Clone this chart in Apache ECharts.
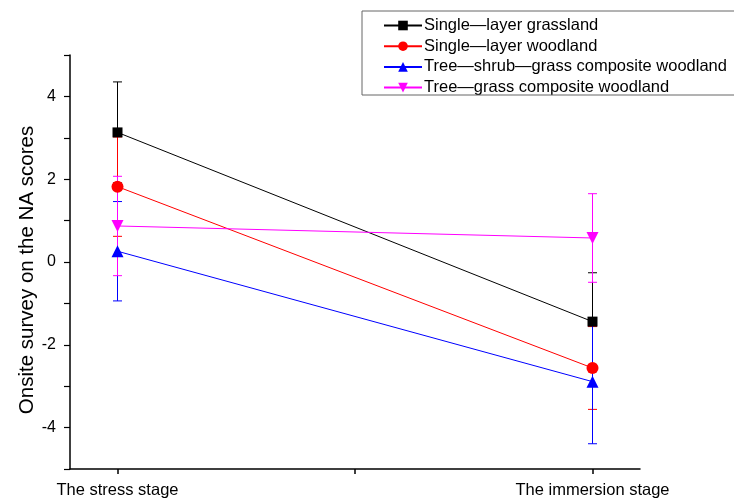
<!DOCTYPE html>
<html>
<head>
<meta charset="utf-8">
<script src="https://cdn.jsdelivr.net/npm/echarts@6/dist/echarts.min.js"></script>
<style>html,body{margin:0;padding:0;background:#fff}#c{width:734px;height:499px}</style>
</head>
<body>
<div id="c"></div>
<script>
const categories = ['The stress stage', 'The immersion stage'];
const xPositions = [1, 2];
const seriesNames = ['Single\u2014layer grassland', 'Single\u2014layer woodland', 'Tree\u2014shrub\u2014grass composite woodland', 'Tree\u2014grass composite woodland'];
const grassland = [3.13, -1.44];
const grasslandErr = [1.22, 1.18];
const woodland = [1.82, -2.56];
const woodlandErr = [1.2, 1.0];
const treeShrub = [0.26, -2.89];
const treeShrubErr = [1.2, 1.5];
const treeGrass = [0.87, 0.58];
const treeGrassErr = [1.2, 1.07];
const yTicks = [-4, -2, 0, 2, 4];

const colors = ['#000000', '#ff0000', '#0000ff', '#ff00ff'];
const symbols = ['rect', 'circle', 'triangle', 'triangle'];
const symbolSizes = [10, 12, 12, 12];
const rotations = [0, 0, 0, 180];
const values = [grassland, woodland, treeShrub, treeGrass];
const errors = [grasslandErr, woodlandErr, treeShrubErr, treeGrassErr];
const font = 'Liberation Sans, Arial, sans-serif';

const chart = echarts.init(document.getElementById('c'));
const series = [];
values.forEach((vals, i) => {
  series.push({
    type: 'custom',
    name: seriesNames[i] + '_err',
    z: 1 + i,
    silent: true,
    data: xPositions.map((x, j) => [x, vals[j] - errors[i][j], vals[j] + errors[i][j]]),
    renderItem: function (params, api) {
      const lo = api.coord([api.value(0), api.value(1)]);
      const hi = api.coord([api.value(0), api.value(2)]);
      const w = 4.5;
      const st = { stroke: colors[i], lineWidth: 1 };
      return {
        type: 'group',
        children: [
          { type: 'line', shape: { x1: lo[0], y1: lo[1], x2: hi[0], y2: hi[1] }, style: st },
          { type: 'line', shape: { x1: lo[0] - w, y1: lo[1], x2: lo[0] + w, y2: lo[1] }, style: st },
          { type: 'line', shape: { x1: hi[0] - w, y1: hi[1], x2: hi[0] + w, y2: hi[1] }, style: st }
        ]
      };
    }
  });
});
values.forEach((vals, i) => {
  series.push({
    type: 'line',
    name: seriesNames[i],
    z: 10,
    data: xPositions.map((x, j) => [x, vals[j]]),
    symbol: symbols[i],
    symbolSize: symbolSizes[i],
    symbolRotate: rotations[i],
    lineStyle: { color: colors[i], width: 1 },
    itemStyle: { color: colors[i] },
    emphasis: { disabled: true },
    animation: false
  });
});

chart.setOption({
  animation: false,
  backgroundColor: '#ffffff',
  grid: { left: 70, right: 94, top: 55, bottom: 30 },
  graphic: [{
    type: 'rect',
    shape: { x: 362, y: 11, width: 400, height: 84 },
    style: { fill: 'none', stroke: '#666', lineWidth: 1 },
    z: 20
  }],
  legend: {
    orient: 'vertical',
    left: 378,
    top: 12,
    itemWidth: 38,
    itemHeight: 12,
    itemGap: 3.7,
    data: seriesNames,
    textStyle: { fontFamily: font, fontSize: 16.5, color: '#000', padding: [0, 0, 0, -3] }
  },
  xAxis: {
    type: 'value',
    min: 0.9,
    max: 2.1,
    axisLine: { onZero: false, lineStyle: { color: '#000', width: 1.5 } },
    axisTick: { show: true, inside: false, length: 5, customValues: [1, 1.5, 2], lineStyle: { color: '#000', width: 1.5 } },
    axisLabel: {
      customValues: xPositions,
      formatter: v => categories[xPositions.indexOf(v)] || '',
      fontFamily: font, fontSize: 16.5, color: '#000', margin: 13
    },
    splitLine: { show: false }
  },
  yAxis: {
    type: 'value',
    min: -5,
    max: 5,
    name: 'Onsite survey on the NA scores',
    nameLocation: 'middle',
    nameMoveOverlap: false,
    nameGap: 32,
    nameTextStyle: { fontFamily: font, fontSize: 20.5, color: '#000', padding: [0, 16, 0, 0] },
    axisLine: { show: true, lineStyle: { color: '#000', width: 1.5 } },
    axisTick: { show: true, inside: false, length: 6, customValues: [-5, -4, -3, -2, -1, 0, 1, 2, 3, 4, 5], lineStyle: { color: '#000', width: 1.2 } },
    axisLabel: { customValues: yTicks, fontFamily: font, fontSize: 16, color: '#000', margin: 14 },
    splitLine: { show: false }
  },
  series: series
});
</script>
</body>
</html>
